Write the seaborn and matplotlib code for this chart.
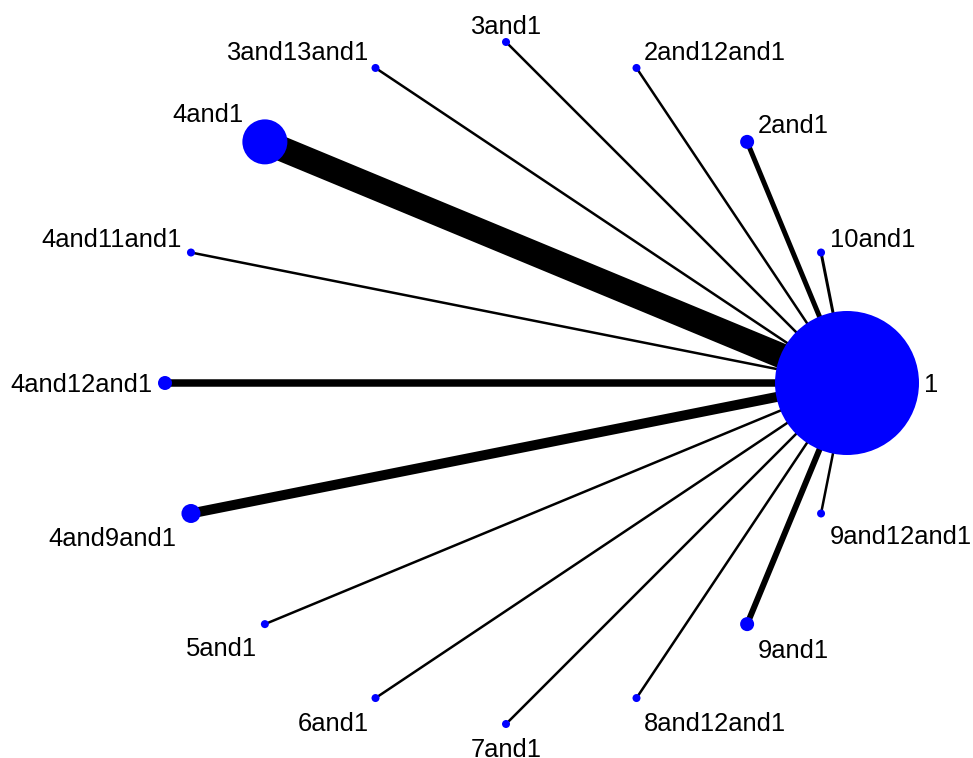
import numpy as np
import pandas as pd
import seaborn as sns
import matplotlib.pyplot as plt

# Nós da rede, na ordem do círculo (anti-horário, começando em "1")
treatments = ['1', '10and1', '2and1', '2and12and1', '3and1', '3and13and1', '4and1',
              '4and11and1', '4and12and1', '4and9and1', '5and1', '6and1', '7and1',
              '8and12and1', '9and1', '9and12and1']
# tamanho do nó (raio em px)
node_size = [72, 4, 7, 4, 4, 4, 22.5, 4, 7, 9.5, 4, 4, 4, 4, 7, 4]
# espessura da aresta até o nó "1" (px)
edge_width = [0, 3, 5, 2.5, 2.5, 2.5, 25, 2.5, 7.5, 10, 2.5, 2.5, 2.5, 2.5, 6, 2.5]

W, H, DPI = 973, 758, 100
R = 341.0  # raio do círculo em px
pt = 72.0 / DPI

n = len(treatments)
ang = 2 * np.pi * np.arange(n) / n
df = pd.DataFrame({'trt': treatments, 'x': np.cos(ang), 'y': np.sin(ang),
                   'r': node_size, 'w': edge_width})
df['s'] = (2 * df['r'] * pt) ** 2

sns.set_style('white')
plt.rcParams['font.family'] = ['Liberation Sans', 'DejaVu Sans']

fig = plt.figure(figsize=(W / DPI, H / DPI), dpi=DPI)
ax = fig.add_axes([0, 0, 1, 1])
cx, cy = 506.0, 383.0
ax.set_xlim(-cx / R, (W - cx) / R)
ax.set_ylim(-(H - cy) / R, cy / R)
ax.set_axis_off()

# arestas
x0, y0 = df.loc[0, 'x'], df.loc[0, 'y']
for _, row in df.iloc[1:].iterrows():
    ax.plot([x0, row['x']], [y0, row['y']], color='black',
            lw=row['w'] * pt, solid_capstyle='butt', zorder=1)

# nós
sns.scatterplot(data=df, x='x', y='y', size='s', sizes=(df['s'].min(), df['s'].max()),
                color='#0000FF', edgecolor='none', legend=False, ax=ax, zorder=2)

# rótulos
for _, row in df.iterrows():
    a = np.arctan2(row['y'], row['x'])
    c, s = np.cos(a), np.sin(a)
    if c > 0.01:
        ha, dx = 'left', row['r'] * c + 5.5
    elif c < -0.01:
        ha, dx = 'right', row['r'] * c - 5.5
    else:
        ha, dx = 'center', 0
    if s > 0.01:
        va, dy = 'baseline', row['r'] * s + 4
    elif s < -0.01:
        va, dy = 'top', row['r'] * s - 10
    else:
        va, dy = 'center_baseline', 0
    ax.text(row['x'] + dx / R, row['y'] + dy / R, row['trt'], ha=ha, va=va,
            fontsize=18.4, color='black')

fig.savefig('out.png', dpi=DPI)
